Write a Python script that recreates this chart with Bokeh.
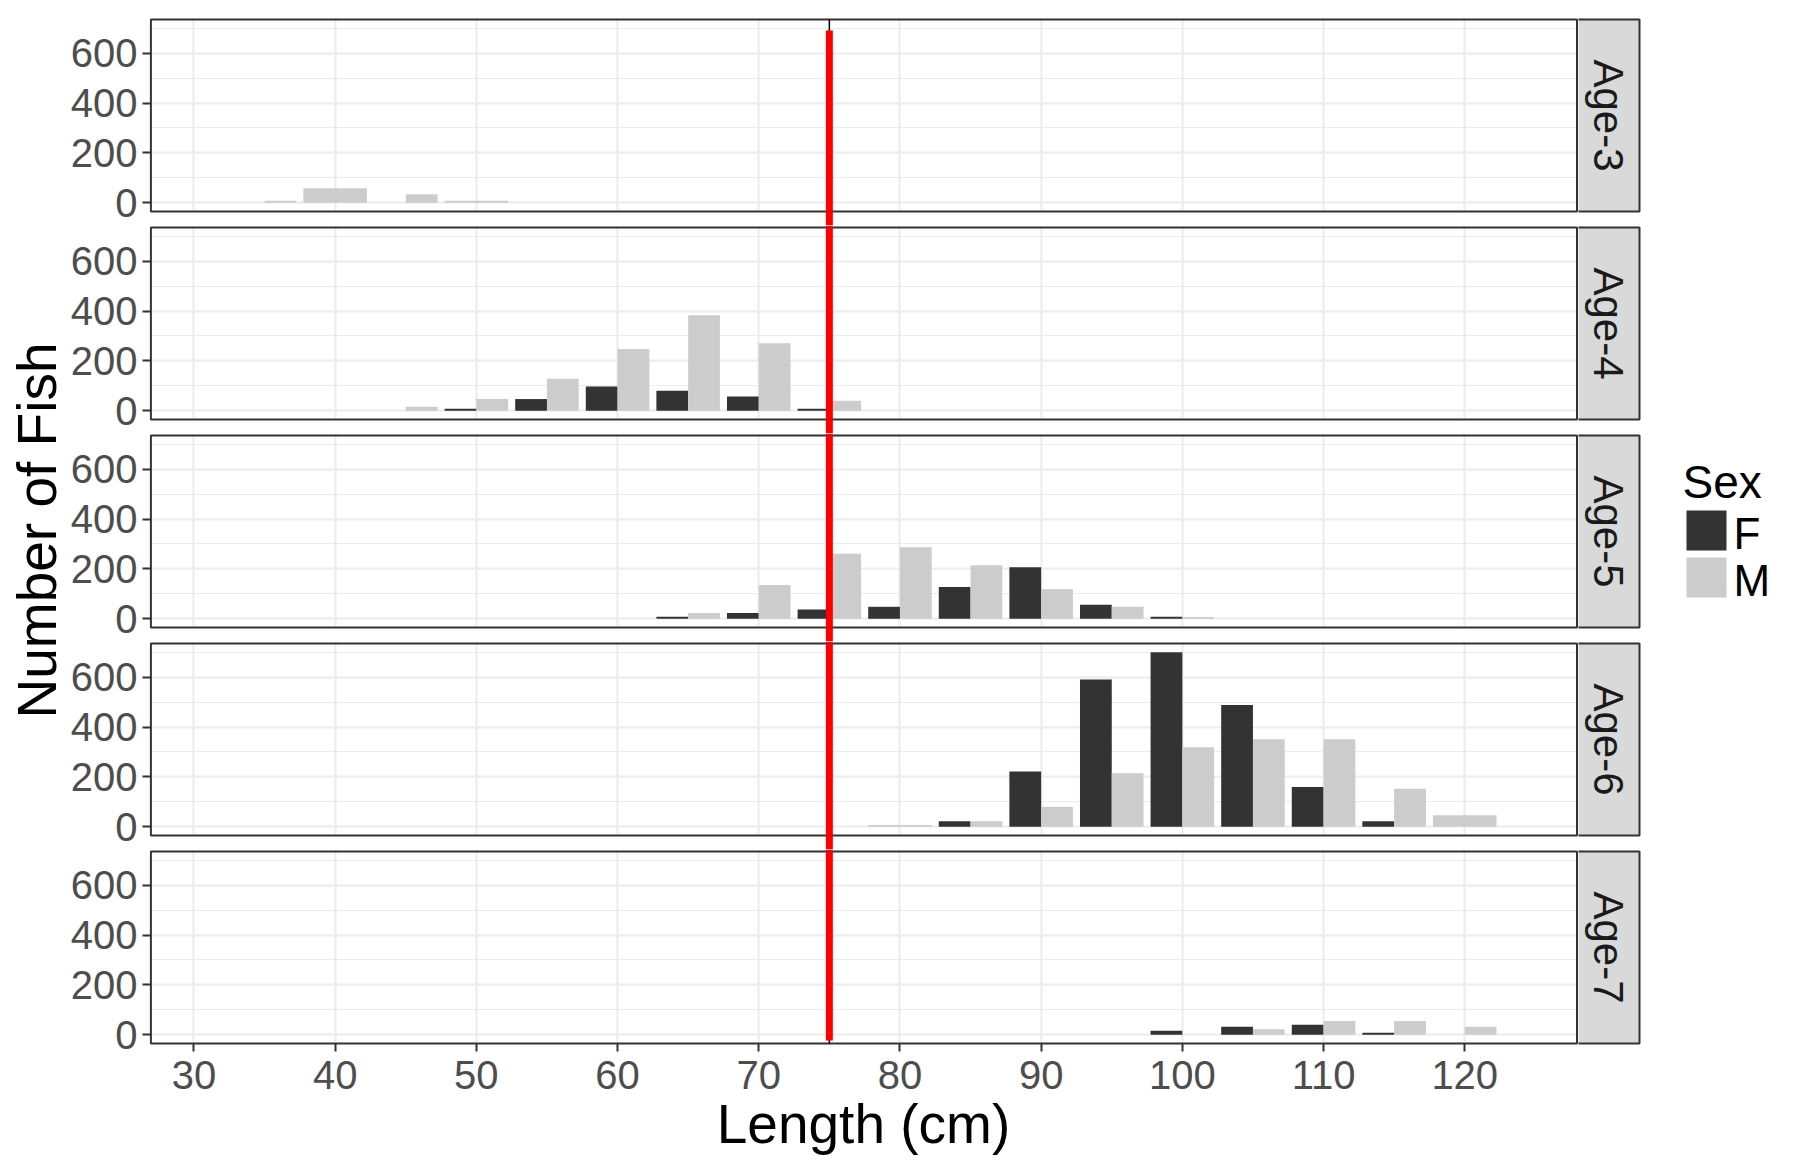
from math import pi
from bokeh.plotting import figure
from bokeh.models import Range1d, FixedTicker, ColumnDataSource
from bokeh.layouts import row, column
from bokeh.embed import file_html
from bokeh.resources import INLINE
from bokeh.core.properties import value

# ---------------- data ----------------
N = None  # group absent in that length bin
length_bins = [35, 40, 45, 50, 55, 60, 65, 70, 75, 80, 85, 90, 95, 100, 105, 110, 115, 120]
ages = ["Age-3", "Age-4", "Age-5", "Age-6", "Age-7"]

age3_F = [0, N, 0, N, N, N, N, N, N, N, N, N, N, N, N, N, N, N]
age3_M = [8, 58, 34, 8, N, N, N, N, N, N, N, N, N, N, N, N, N, N]
age4_F = [N, N, 0, 8, 47, 97, 80, 57, 8, N, N, N, N, N, N, N, N, N]
age4_M = [N, N, 16, 47, 128, 248, 383, 271, 40, N, N, N, N, N, N, N, N, N]
age5_F = [N, N, N, N, N, N, 8, 23, 37, 48, 127, 207, 56, 8, N, N, N, N]
age5_M = [N, N, N, N, N, N, 23, 135, 261, 287, 215, 119, 48, 7, N, N, N, N]
age6_F = [N, N, N, N, N, N, N, N, N, N, 22, 222, 591, 700, 488, 160, 22, N]
age6_M = [N, N, N, N, N, N, N, N, N, 7, 22, 80, 215, 319, 351, 351, 152, 46]
age7_F = [N, N, N, N, N, N, N, N, N, N, N, N, N, 16, 32, 40, 8, 0]
age7_M = [N, N, N, N, N, N, N, N, N, N, N, N, N, 0, 22, 55, 55, 32]

female_counts = [age3_F, age4_F, age5_F, age6_F, age7_F]
male_counts = [age3_M, age4_M, age5_M, age6_M, age7_M]

x_ticks = [30, 40, 50, 60, 70, 80, 90, 100, 110, 120]
y_ticks = [0, 200, 400, 600]
y_minor_ticks = [100, 300, 500, 700]
sex_labels = ["F", "M"]
sex_colors = ["#333333", "#cccccc"]
cutoff_length = 75
x_title = "Length (cm)"
y_title = "Number of Fish"
legend_title = "Sex"

# ---------------- style / geometry ----------------
FONT = "Liberation Sans"
TICK_FS = "40px"
BIN_W = 5
DODGE = 0.9
X_LO, X_HI = 26.95, 127.95
Y_LO, Y_HI = -35, 735

L_W = 66                     # column holding the y title
PANEL_L, PANEL_R = 150.4, 1576.5
FRAME_L, FRAME_R = 148, 1578
STRIP_R, STRIP_FRAME_R = 1639, 1641
LEG_W = 155
TOP0, PANEL_H, GAP, EXT = 19, 192, 16, 2
BOTTOM_AXIS = 115
TOTAL_H = TOP0 - EXT + 5 * PANEL_H + 4 * GAP + 2 * EXT + BOTTOM_AXIS

sx = (PANEL_R - PANEL_L) / (X_HI - X_LO)
sy = PANEL_H / (Y_HI - Y_LO)
RED_TOP_PX = 11     # red line starts this far below the top panel edge
RED_BOT_PX = 3      # and stops this far above the bottom panel edge

GRID_COL = "#ebebeb"
BORDER_COL = "#333333"


def dodge(f_vals, m_vals):
    left, right, top, color = [], [], [], []
    half = BIN_W * DODGE / 2
    for b, f, m in zip(length_bins, f_vals, m_vals):
        groups = [(v, c) for v, c in ((f, sex_colors[0]), (m, sex_colors[1])) if v is not None]
        if not groups:
            continue
        w = 2 * half / len(groups)
        for i, (v, c) in enumerate(groups):
            left.append(b - half + i * w)
            right.append(b - half + (i + 1) * w)
            top.append(v)
            color.append(c)
    return ColumnDataSource(dict(left=left, right=right, top=top,
                                 bottom=[0] * len(top), color=color))


def style_ticks(ax):
    ax.axis_line_color = None
    ax.major_tick_in = 2
    ax.major_tick_out = 6
    ax.major_tick_line_color = BORDER_COL
    ax.major_tick_line_width = 2
    ax.minor_tick_line_color = None
    ax.major_label_text_font = FONT
    ax.major_label_text_font_size = TICK_FS
    ax.major_label_text_color = "#4d4d4d"


def blank_fig(w, h, xr, yr, top=0):
    f = figure(frame_width=w, frame_height=h, x_range=xr, y_range=yr,
               output_backend="svg", toolbar_location=None, title=None,
               x_axis_location=None, y_axis_location=None, min_border=0,
               min_border_top=top, min_border_bottom=0, min_border_left=0,
               min_border_right=0, outline_line_color=None,
               background_fill_color="white", border_fill_color="white")
    f.grid.visible = False
    return f


panels, strips = [], []
for k, age in enumerate(ages):
    last = (k == 4)
    pad_top = EXT
    pad_bot = EXT if last else GAP - EXT
    frame_h = int(PANEL_H + pad_top + pad_bot)
    yr = Range1d(Y_LO - pad_bot / sy, Y_HI + pad_top / sy)
    xr = Range1d(X_LO - (PANEL_L - FRAME_L) / sx, X_HI + (FRAME_R - PANEL_R) / sx)
    top_border = (TOP0 - EXT) if k == 0 else 0

    p = figure(frame_width=FRAME_R - FRAME_L, frame_height=frame_h,
               x_range=xr, y_range=yr, output_backend="svg", toolbar_location=None,
               title=None, x_axis_location="below" if last else None,
               y_axis_location="left", min_border=0,
               min_border_left=FRAME_L - L_W, min_border_top=top_border,
               min_border_bottom=BOTTOM_AXIS if last else 0, min_border_right=0,
               outline_line_color=None, background_fill_color="white",
               border_fill_color="white")

    yax = p.yaxis[0]
    yax.ticker = FixedTicker(ticks=y_ticks, minor_ticks=y_minor_ticks)
    style_ticks(yax)
    yax.major_label_standoff = 5

    p.ygrid.ticker = FixedTicker(ticks=y_ticks, minor_ticks=y_minor_ticks)
    p.ygrid.grid_line_color = GRID_COL
    p.ygrid.grid_line_width = 2
    p.ygrid.minor_grid_line_color = GRID_COL
    p.ygrid.minor_grid_line_width = 1
    p.xgrid.ticker = FixedTicker(ticks=x_ticks, minor_ticks=[])
    p.xgrid.grid_line_color = GRID_COL
    p.xgrid.grid_line_width = 2
    p.xgrid.minor_grid_line_color = None

    if last:
        xax = p.xaxis[0]
        xax.ticker = FixedTicker(ticks=x_ticks, minor_ticks=[])
        style_ticks(xax)
        xax.major_label_standoff = 9
        xax.axis_label = x_title
        xax.axis_label_text_font = FONT
        xax.axis_label_text_font_size = "55px"
        xax.axis_label_text_font_style = "normal"
        xax.axis_label_text_color = "black"
        xax.axis_label_standoff = 1

    # white covers for the gaps between panels (hide grid lines there)
    p.quad(left=[xr.start, xr.start, xr.start, X_HI],
           right=[xr.end, xr.end, X_LO, xr.end],
           bottom=[yr.start, Y_HI, yr.start, yr.start],
           top=[Y_LO, yr.end, yr.end, yr.end],
           fill_color="white", line_color=None)

    # bars
    p.quad(left="left", right="right", top="top", bottom="bottom",
           fill_color="color", line_color=None, source=dodge(female_counts[k], male_counts[k]))

    # panel border
    p.quad(left=[X_LO], right=[X_HI], bottom=[Y_LO], top=[Y_HI],
           fill_color=None, line_color=BORDER_COL, line_width=2)

    # thin black vline inside the panel
    p.segment(x0=[cutoff_length], x1=[cutoff_length], y0=[Y_LO], y1=[Y_HI],
              line_color="black", line_width=1.5)

    # red cut-off line running through all panels
    y_top = (Y_HI - RED_TOP_PX / sy) if k == 0 else yr.end
    y_bot = (Y_LO + RED_BOT_PX / sy) if last else yr.start
    p.segment(x0=[cutoff_length], x1=[cutoff_length], y0=[y_bot], y1=[y_top],
              line_color="#ff0000", line_width=7)
    panels.append(p)

    # facet strip
    s = blank_fig(STRIP_FRAME_R - FRAME_R, frame_h, Range1d(FRAME_R, STRIP_FRAME_R),
                  Range1d(yr.start, yr.end), top=top_border)
    s.quad(left=[PANEL_R], right=[STRIP_R], bottom=[Y_LO], top=[Y_HI],
           fill_color="#d9d9d9", line_color=BORDER_COL, line_width=2)
    s.text(x=[(PANEL_R + STRIP_R) / 2], y=[(Y_LO + Y_HI) / 2], text=[age],
           angle=-pi / 2, text_align="center", text_baseline="middle",
           text_font=value(FONT), text_font_size="42px", text_color="#1a1a1a")
    strips.append(s)

# y-axis title column (coordinates in page pixels)
left_fig = blank_fig(L_W, TOTAL_H, Range1d(0, L_W), Range1d(TOTAL_H, 0))
panel_mid = (TOP0 + TOP0 + 4 * (PANEL_H + GAP) + PANEL_H) / 2
left_fig.text(x=[36], y=[panel_mid - 1], text=[y_title],
              angle=pi / 2, text_align="center", text_baseline="middle",
              text_font=value(FONT), text_font_size="55px", text_color="black")

# legend column (coordinates in page pixels)
leg = blank_fig(LEG_W, TOTAL_H, Range1d(STRIP_FRAME_R, STRIP_FRAME_R + LEG_W),
                Range1d(TOTAL_H, 0))
KEY_X0, KEY_X1, KEY_Y0, KEY_H, KEY_STEP = 1686, 1726, 510, 40, 47
leg.text(x=[1682], y=[481], text=[legend_title], text_align="left", text_baseline="middle",
         text_font=value(FONT), text_font_size="46px", text_color="black")
leg.quad(left=[KEY_X0] * 2, right=[KEY_X1] * 2,
         top=[KEY_Y0 + i * KEY_STEP for i in range(2)],
         bottom=[KEY_Y0 + KEY_H + i * KEY_STEP for i in range(2)],
         fill_color=sex_colors, line_color=None)
leg.text(x=[1733] * 2, y=[KEY_Y0 + KEY_H / 2 + 3 + i * KEY_STEP for i in range(2)],
         text=sex_labels, text_align="left", text_baseline="middle",
         text_font=value(FONT), text_font_size="44px", text_color="black")

layout = row(left_fig, column(*panels), column(*strips), leg)
open("out.html", "w").write(file_html(layout, INLINE))
